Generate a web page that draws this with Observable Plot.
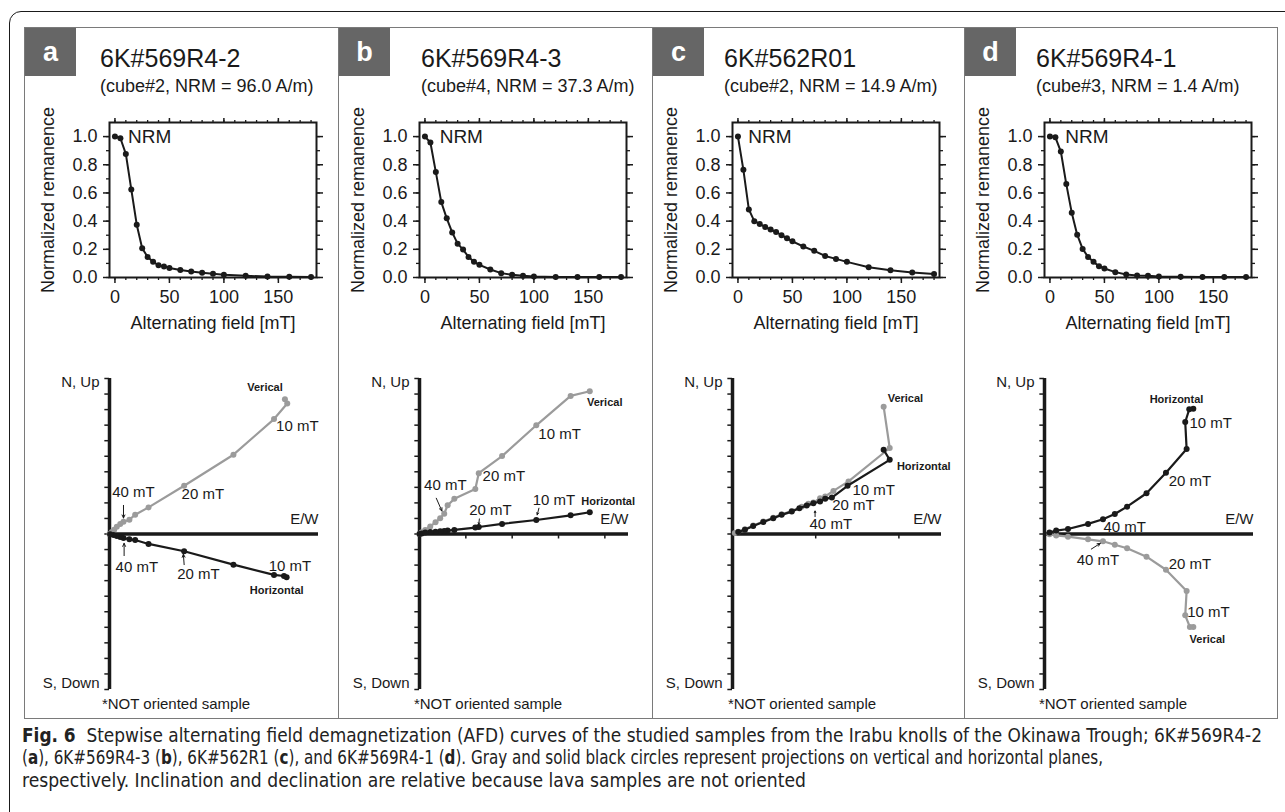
<!DOCTYPE html>
<html><head><meta charset="utf-8">
<script src="https://cdn.jsdelivr.net/npm/d3@7"></script>
<script src="https://cdn.jsdelivr.net/npm/@observablehq/plot@0.6"></script>
<style>
body{margin:0;width:1285px;height:812px;position:relative;background:#fff;font-family:"Liberation Sans",Arial,Helvetica,sans-serif;overflow:hidden;color:#1a1a1a}
.abs{position:absolute}
#outer{left:9px;top:11px;width:1320px;height:840px;border:1.5px solid #1a1a1a;border-radius:12px;box-sizing:border-box}
#panels{left:24px;top:27px;width:1254px;height:692px;border:1.5px solid #7a7a7a;box-sizing:border-box}
.divl{top:27px;height:692px;width:0;border-left:1.5px solid #7a7a7a}
.lab{background:#666;color:#fff;font-weight:bold;font-size:27px;width:51px;height:48px;display:flex;align-items:center;justify-content:center;top:28px}
.title{font-size:25px;top:44px;line-height:28px;white-space:nowrap}
.sub{font-size:18px;top:75px;line-height:22px;white-space:nowrap}
.note{font-size:15px;top:695px;white-space:nowrap;transform:translateX(-50%)}
svg{overflow:visible}
.cap{left:22px;font-size:19px;line-height:22px;white-space:nowrap;transform-origin:0 0;font-family:"Liberation Sans Narrow","DejaVu Sans Condensed","Liberation Sans",sans-serif;color:#222}
</style></head>
<body>
<div id="outer" class="abs"></div>
<div id="panels" class="abs"></div>
<div id="root"></div>
<div class="abs cap" id="c1" style="top:724px"><b>Fig. 6</b>&nbsp; Stepwise alternating field demagnetization (AFD) curves of the studied samples from the Irabu knolls of the Okinawa Trough; 6K#569R4-2</div>
<div class="abs cap" id="c2" style="top:746px">(<b>a</b>), 6K#569R4-3 (<b>b</b>), 6K#562R1 (<b>c</b>), and 6K#569R4-1 (<b>d</b>). Gray and solid black circles represent projections on vertical and horizontal planes,</div>
<div class="abs cap" id="c3" style="top:769px">respectively. Inclination and declination are relative because lava samples are not oriented</div>
<script>
// ---------- data ----------
const panelLetters = ["a","b","c","d"];
const sampleNames = ["6K#569R4-2","6K#569R4-3","6K#562R01","6K#569R4-1"];
const cubeInfo = ["(cube#2, NRM = 96.0 A/m)","(cube#4, NRM = 37.3 A/m)","(cube#2, NRM = 14.9 A/m)","(cube#3, NRM = 1.4 A/m)"];
const fieldSteps = [0,5,10,15,20,25,30,35,40,45,50,60,70,80,90,100,120,140,160,180];
const remA = [1.0,0.988,0.877,0.625,0.375,0.208,0.146,0.111,0.087,0.078,0.068,0.054,0.042,0.033,0.026,0.019,0.012,0.007,0.006,0.003];
const remB = [1.0,0.958,0.748,0.535,0.42,0.32,0.24,0.198,0.146,0.111,0.09,0.057,0.031,0.019,0.012,0.007,0.004,0.003,0.003,0.003];
const remC = [1.0,0.764,0.483,0.40,0.38,0.358,0.34,0.323,0.30,0.278,0.257,0.22,0.189,0.153,0.132,0.111,0.073,0.052,0.035,0.024];
const remD = [1.0,0.995,0.894,0.663,0.46,0.304,0.203,0.146,0.111,0.08,0.064,0.038,0.021,0.014,0.012,0.007,0.005,0.004,0.004,0.004];
const yTicks = [0,0.2,0.4,0.6,0.8,1.0];
const xTicks = [0,50,100,150];

// Zijderveld: vertical-plane projection (gray) and horizontal-plane projection (black)
const vertA_x = [11.28,11.43,10.58,7.97,4.80,2.51,1.65,1.28,0.90,0.69,0.47,0.30,0.15,0];
const vertA_y = [8.67,8.39,7.39,5.10,3.10,1.71,1.24,0.92,0.79,0.64,0.47,0.28,0.13,0];
const horA_x = [11.39,11.22,10.58,7.97,4.80,2.51,1.65,1.28,0.90,0.69,0.47,0.26,0.04];
const horA_y = [-2.78,-2.70,-2.63,-1.97,-1.11,-0.64,-0.39,-0.34,-0.26,-0.19,-0.13,-0.06,-0.02];

const vertB_x = [10.95,9.72,7.51,5.31,3.81,3.59,2.24,1.81,1.59,1.33,1.03,0.69,0.37,0.15,0];
const vertB_y = [9.18,8.88,6.99,5.01,3.91,2.90,2.26,1.85,1.31,1.01,0.75,0.49,0.26,0.11,0];
const horB_x = [10.95,9.72,7.51,5.31,3.81,3.59,2.24,1.81,1.59,1.33,1.03,0.69,0.37,0.15,0];
const horB_y = [1.40,1.20,0.90,0.65,0.45,0.41,0.26,0.22,0.19,0.17,0.15,0.13,0.09,0.04,0];

const vertC_x = [9.72,10.11,7.46,6.49,5.96,5.63,5.20,4.88,4.45,3.81,3.16,2.62,1.98,1.33,0.80,0.37,0.15];
const vertC_y = [8.19,5.53,3.38,2.77,2.41,2.30,2.02,1.94,1.76,1.48,1.27,1.05,0.80,0.54,0.30,0.15,0.06];
const horC_x = [9.72,10.11,7.40,6.39,5.96,5.63,5.20,4.77,4.30,3.81,3.16,2.62,1.98,1.33,0.80,0.37];
const horC_y = [5.42,4.77,3.10,2.34,2.26,2.09,1.98,1.83,1.66,1.44,1.23,1.01,0.77,0.52,0.28,0.13];

const vertD_x = [9.57,9.35,9.05,9.14,7.81,6.56,5.31,4.52,3.76,2.80,1.51,0.75,0.32];
const vertD_y = [-5.98,-5.98,-5.23,-3.66,-2.30,-1.46,-0.92,-0.69,-0.47,-0.34,-0.17,-0.09,-0.02];
const horD_x = [9.57,9.31,9.05,9.14,7.81,6.56,5.31,4.52,3.76,2.80,1.51,0.75,0.32];
const horD_y = [8.06,8.02,7.20,5.46,3.94,2.62,1.76,1.29,0.95,0.65,0.32,0.22,0.09];

// annotations (text at data positions)
const labelsA = [
  {x:10.0,y:9.42,t:"Verical",b:1},{x:12.08,y:6.96,t:"10 mT"},{x:6.0,y:2.57,t:"20 mT"},
  {x:1.54,y:2.68,t:"40 mT"},{x:1.76,y:-2.14,t:"40 mT"},{x:5.72,y:-2.61,t:"20 mT"},
  {x:11.6,y:-2.08,t:"10 mT"},{x:10.75,y:-3.6,t:"Horizontal",b:1}];
const arrowsA = [{x1:0.9,y1:1.84,x2:0.9,y2:1.03},{x1:0.94,y1:-1.39,x2:0.94,y2:-0.6},{x1:4.8,y1:-1.97,x2:4.75,y2:-1.3}];
const labelsB = [
  {x:11.91,y:8.43,t:"Verical",b:1},{x:9.01,y:6.45,t:"10 mT"},{x:5.42,y:3.70,t:"20 mT"},
  {x:1.66,y:3.16,t:"40 mT"},{x:12.13,y:2.09,t:"Horizontal",b:1},{x:8.65,y:2.15,t:"10 mT"},
  {x:4.56,y:1.51,t:"20 mT"}];
const arrowsB = [{x1:1.08,y1:2.30,x2:1.44,y2:1.48},{x1:7.68,y1:1.66,x2:7.57,y2:1.23},{x1:3.85,y1:0.97,x2:3.81,y2:0.62}];
const labelsC = [
  {x:11.12,y:8.71,t:"Verical",b:1},{x:12.3,y:4.34,t:"Horizontal",b:1},{x:9.08,y:2.84,t:"10 mT"},
  {x:7.78,y:1.87,t:"20 mT"},{x:6.32,y:0.62,t:"40 mT"}];
const arrowsC = [{x1:5.31,y1:1.12,x2:5.31,y2:1.48}];
const labelsD = [
  {x:8.49,y:8.65,t:"Horizontal",b:1},{x:10.69,y:7.14,t:"10 mT"},{x:9.35,y:3.40,t:"20 mT"},
  {x:5.16,y:0.43,t:"40 mT"},{x:3.44,y:-1.68,t:"40 mT"},{x:9.35,y:-1.94,t:"20 mT"},
  {x:10.54,y:-5.05,t:"10 mT"},{x:10.47,y:-6.77,t:"Verical",b:1}];
const arrowsD = [{x1:3.01,y1:-0.97,x2:3.59,y2:-0.6}];
const ewTicksA = [], ewTicksB = [2.98,5.96,8.94,11.92], ewTicksC = [5.35,10.7], ewTicksD = [];
const nrmLabelX = [12, 13.5, 9.5, 14];

// ---------- layout ----------
const panelLeft = [24, 338, 652, 964];
const frameLeft = [109, 419, 732, 1044];
const titleLeft = [100, 421, 724, 1036];
const noteCenter = [176, 488, 802, 1113];
const FONT = '"Liberation Sans", Arial, Helvetica, sans-serif';
const INK = "#1a1a1a", GRAY = "#9b9b9b";

const remAll = [remA, remB, remC, remD];
const zij = [
  [vertA_x, vertA_y, horA_x, horA_y, labelsA, arrowsA, ewTicksA],
  [vertB_x, vertB_y, horB_x, horB_y, labelsB, arrowsB, ewTicksB],
  [vertC_x, vertC_y, horC_x, horC_y, labelsC, arrowsC, ewTicksC],
  [vertD_x, vertD_y, horD_x, horD_y, labelsD, arrowsD, ewTicksD]
];
const root = document.getElementById("root");
function place(el, left, top) { el.style.position = "absolute"; el.style.left = left + "px"; el.style.top = top + "px"; root.appendChild(el); }

function decayPlot(rem, nrmX) {
  const data = fieldSteps.map((f, i) => ({f, r: rem[i]}));
  const minorX = d3.range(0, 190, 10), minorY = d3.range(0, 11).map(d => d / 10);
  const blank = () => "";
  return Plot.plot({
    width: 310, height: 237, marginLeft: 89, marginRight: 14, marginTop: 22, marginBottom: 60,
    x: {domain: [-5, 185]}, y: {domain: [0, 1.1]},
    style: {fontFamily: FONT, fontSize: "17px", color: INK, background: "transparent"},
    marks: [
      Plot.axisX({anchor: "bottom", ticks: minorX, tickSize: 3, tickFormat: blank, label: null, strokeWidth: 1.3}),
      Plot.axisX({anchor: "bottom", ticks: xTicks, tickSize: 6, tickPadding: 7, tickFormat: d => String(d), strokeWidth: 1.5,
        label: "Alternating field [mT]", labelAnchor: "center", labelArrow: "none", labelOffset: 51, fontSize: 18}),
      Plot.axisX({anchor: "top", ticks: minorX, tickSize: 3, tickFormat: blank, label: null, strokeWidth: 1.3}),
      Plot.axisX({anchor: "top", ticks: xTicks, tickSize: 5, tickFormat: blank, label: null, strokeWidth: 1.5}),
      Plot.axisY({anchor: "left", ticks: minorY, tickSize: 3, tickFormat: blank, label: null, strokeWidth: 1.3}),
      Plot.axisY({anchor: "left", ticks: yTicks, tickSize: 6, tickPadding: 6, tickFormat: d3.format(".1f"), strokeWidth: 1.5,
        label: "Normalized remanence", labelAnchor: "center", labelArrow: "none", labelOffset: 68, fontSize: 18}),
      Plot.axisY({anchor: "right", ticks: minorY, tickSize: 3, tickFormat: blank, label: null, strokeWidth: 1.3}),
      Plot.axisY({anchor: "right", ticks: yTicks, tickSize: 6, tickFormat: blank, label: null, strokeWidth: 1.5}),
      Plot.frame({stroke: INK, strokeWidth: 2}),
      Plot.line(data, {x: "f", y: "r", stroke: INK, strokeWidth: 2}),
      Plot.dot(data, {x: "f", y: "r", r: 3, fill: INK, stroke: "none"}),
      Plot.text(["NRM"], {x: nrmX, y: 1.0, text: d => d, textAnchor: "start", fontSize: 19, fill: INK})
    ]
  });
}

function zijPlot(vx, vy, hx, hy, labs, arrs, ewTicks) {
  const V = vx.map((x, i) => ({x, y: vy[i]}));
  const H = hx.map((x, i) => ({x, y: hy[i]}));
  const XMAX = 13.44;
  return Plot.plot({
    width: 80 + 209 + 24, height: 18 + 311 + 12, marginLeft: 80, marginRight: 24, marginTop: 18, marginBottom: 12,
    x: {domain: [0, XMAX], axis: null}, y: {domain: [-10, 10], axis: null},
    style: {fontFamily: FONT, fontSize: "15px", color: INK, background: "transparent"},
    marks: [
      Plot.ruleY(d3.range(-10, 11), {y: d => d, x1: -0.3, x2: 0, stroke: INK, strokeWidth: 1.5}),
      Plot.ruleX(ewTicks, {x: d => d, y1: 0, y2: -0.32, stroke: INK, strokeWidth: 1.5}),
      Plot.ruleX([0], {x: d => d, y1: -10, y2: 10, stroke: INK, strokeWidth: 3.5}),
      Plot.ruleY([0], {y: d => d, x1: 0, x2: XMAX, stroke: INK, strokeWidth: 3.5}),
      Plot.line(V, {x: "x", y: "y", stroke: GRAY, strokeWidth: 2.2}),
      Plot.dot(V, {x: "x", y: "y", r: 3, fill: GRAY, stroke: "none"}),
      Plot.line(H, {x: "x", y: "y", stroke: INK, strokeWidth: 2.2}),
      Plot.dot(H, {x: "x", y: "y", r: 3, fill: INK, stroke: "none"}),
      Plot.arrow(arrs, {x1: "x1", y1: "y1", x2: "x2", y2: "y2", stroke: INK, strokeWidth: 1, headLength: 5, headAngle: 50}),
      Plot.text(labs.filter(d => !d.b), {x: "x", y: "y", text: "t", fontSize: 15, fill: INK}),
      Plot.text(labs.filter(d => d.b), {x: "x", y: "y", text: "t", fontSize: 11, fontWeight: "bold", fill: INK}),
      Plot.text(["N, Up"], {x: 0, y: 9.75, text: d => d, dx: -10, textAnchor: "end", fill: INK}),
      Plot.text(["S, Down"], {x: 0, y: -9.6, text: d => d, dx: -10, textAnchor: "end", fill: INK}),
      Plot.text(["E/W"], {x: XMAX, y: 0, text: d => d, dy: -15, textAnchor: "end", fill: INK})
    ]
  });
}

for (let i = 0; i < 4; i++) {
  if (i > 0) { const dv = document.createElement("div"); dv.className = "divl"; place(dv, panelLeft[i], 27); }
  const lab = document.createElement("div"); lab.className = "lab"; lab.textContent = panelLetters[i];
  place(lab, panelLeft[i] + 1, 28);
  const t = document.createElement("div"); t.className = "title"; t.textContent = sampleNames[i]; place(t, titleLeft[i], 44);
  const s = document.createElement("div"); s.className = "sub"; s.textContent = cubeInfo[i]; place(s, titleLeft[i], 75);
  place(decayPlot(remAll[i], nrmLabelX[i]), frameLeft[i] - 89, 100);
  place(zijPlot(...zij[i]), frameLeft[i] - 80, 360);
  const n = document.createElement("div"); n.className = "note"; n.textContent = "*NOT oriented sample";
  place(n, noteCenter[i], 695);
}

// fit caption lines to their widths in the reference
const capTargets = {c1: 1240, c2: 1081, c3: 784};
for (const id in capTargets) {
  const el = document.getElementById(id);
  const w = el.getBoundingClientRect().width;
  el.style.transform = `scaleX(${capTargets[id] / w})`;
}
</script>
</body></html>
